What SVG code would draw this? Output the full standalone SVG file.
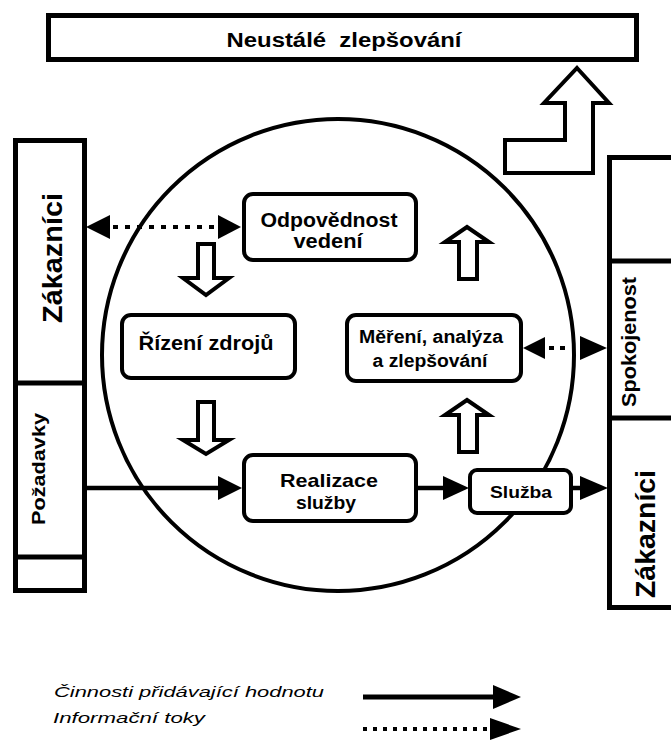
<svg xmlns="http://www.w3.org/2000/svg" width="671" height="742" viewBox="0 0 671 742">
<style>
.frame{fill:#fff;stroke:#000;stroke-width:5}
.box{fill:#fff;stroke:#000;stroke-width:4}
.hollow{fill:#fff;stroke:#000;stroke-width:4;stroke-linejoin:miter}
.t{font-family:"Liberation Sans",Arial,sans-serif;font-weight:bold;fill:#000;text-anchor:middle}
.leg{font-family:"Liberation Sans",Arial,sans-serif;font-style:italic;fill:#000;font-size:15px}
.solid{stroke:#000;stroke-width:4.5;fill:none}
.dot{stroke:#000;stroke-width:4;fill:none;stroke-dasharray:5 7}
.head{fill:#000;stroke:none}
</style>
<rect width="671" height="742" fill="#fff"/>

<g id="neustale">
<rect class="frame" x="48.5" y="15.5" width="588" height="44"/>
<text class="t" x="344" y="47" font-size="20" textLength="235" lengthAdjust="spacingAndGlyphs" xml:space="preserve">Neustálé  zlepšování</text>
</g>

<g id="zakaznici-left">
<rect class="frame" x="15.5" y="140.5" width="69" height="450"/>
<line x1="15" y1="383" x2="85" y2="383" stroke="#000" stroke-width="5"/>
<line x1="15" y1="557" x2="85" y2="557" stroke="#000" stroke-width="5"/>
<text class="t" transform="translate(62,258) rotate(-90)" font-size="27" textLength="130" lengthAdjust="spacingAndGlyphs">Zákazníci</text>
<text class="t" transform="translate(45,469) rotate(-90)" font-size="18" textLength="112" lengthAdjust="spacingAndGlyphs">Požadavky</text>
</g>

<g id="zakaznici-right">
<rect class="frame" x="609.5" y="157.5" width="80" height="450"/>
<line x1="609" y1="261" x2="680" y2="261" stroke="#000" stroke-width="5"/>
<line x1="609" y1="418" x2="680" y2="418" stroke="#000" stroke-width="5"/>
<text class="t" transform="translate(636,342) rotate(-90)" font-size="20" textLength="130" lengthAdjust="spacingAndGlyphs">Spokojenost</text>
<text class="t" transform="translate(655,534) rotate(-90)" font-size="27" textLength="128" lengthAdjust="spacingAndGlyphs">Zákazníci</text>
</g>

<g id="cycle">
<circle cx="338" cy="355" r="236" fill="none" stroke="#000" stroke-width="4"/>
</g>

<g id="improve-arrow">
<path class="hollow" d="M577,68 L609,103 L593,103 L593,173 L505,173 L505,140 L565,140 L565,103 L544,103 Z"/>
</g>

<g id="connectors">
<path class="hollow" d="M198,244 L214,244 L214,278 L229,278 L206,295 L183,278 L198,278 Z"/>
<path class="hollow" d="M198,402 L214,402 L214,440 L229,440 L206,454 L183,440 L198,440 Z"/>
<path class="hollow" d="M467,227 L489,242 L477,242 L477,279 L459,279 L459,242 L445,242 Z"/>
<path class="hollow" d="M467,400 L489,415 L477,415 L477,452 L459,452 L459,415 L445,415 Z"/>
<line class="dot" x1="113" y1="227" x2="216" y2="227"/>
<polygon class="head" points="86,227 110,215 110,239"/>
<polygon class="head" points="241,227 218,215 218,239"/>
<line class="dot" x1="549" y1="348" x2="570" y2="348" style="stroke-dasharray:5 6"/>
<polygon class="head" points="523,348 545,337 545,359"/>
<polygon class="head" points="607,348 580,336 580,360"/>
<line class="solid" x1="85" y1="488" x2="220" y2="488"/>
<polygon class="head" points="242,488 218,476 218,500"/>
<line class="solid" x1="418" y1="488" x2="445" y2="488"/>
<polygon class="head" points="469,488 443,476 443,500"/>
<line class="solid" x1="572" y1="488" x2="582" y2="488"/>
<polygon class="head" points="608,488 580,476 580,500"/>
</g>

<g id="odpovednost">
<rect class="box" x="244" y="194" width="172" height="66" rx="9"/>
<text class="t" x="329" y="227" font-size="20" textLength="137" lengthAdjust="spacingAndGlyphs">Odpovědnost</text>
<text class="t" x="328" y="248" font-size="20" textLength="69" lengthAdjust="spacingAndGlyphs">vedení</text>
</g>

<g id="rizeni">
<rect class="box" x="122" y="315" width="173" height="63" rx="9"/>
<text class="t" x="206" y="350" font-size="20" textLength="135" lengthAdjust="spacingAndGlyphs">Řízení zdrojů</text>
</g>

<g id="mereni">
<rect class="box" x="347" y="315" width="174" height="66" rx="9"/>
<text class="t" x="431" y="343" font-size="18" textLength="144" lengthAdjust="spacingAndGlyphs">Měření, analýza</text>
<text class="t" x="430" y="367" font-size="18" textLength="115" lengthAdjust="spacingAndGlyphs">a zlepšování</text>
</g>

<g id="realizace">
<rect class="box" x="244" y="455" width="172" height="66" rx="9"/>
<text class="t" x="329" y="487" font-size="19" textLength="98" lengthAdjust="spacingAndGlyphs">Realizace</text>
<text class="t" x="326" y="509" font-size="19" textLength="60" lengthAdjust="spacingAndGlyphs">služby</text>
</g>

<g id="sluzba">
<rect class="box" x="470" y="470" width="101" height="43" rx="7"/>
<text class="t" x="521" y="498" font-size="17" textLength="62" lengthAdjust="spacingAndGlyphs">Služba</text>
</g>

<g id="legend">
<text class="leg" x="54" y="697" textLength="270" lengthAdjust="spacingAndGlyphs">Činnosti přidávající hodnotu</text>
<text class="leg" x="53" y="723" textLength="152" lengthAdjust="spacingAndGlyphs">Informační toky</text>
<line class="solid" x1="363" y1="697" x2="496" y2="697" style="stroke-width:5"/>
<polygon class="head" points="521,697 493,685 493,709"/>
<line class="dot" x1="363" y1="729" x2="490" y2="729" style="stroke-dasharray:4 6"/>
<polygon class="head" points="521,729 490,718 490,740"/>
</g>
</svg>
